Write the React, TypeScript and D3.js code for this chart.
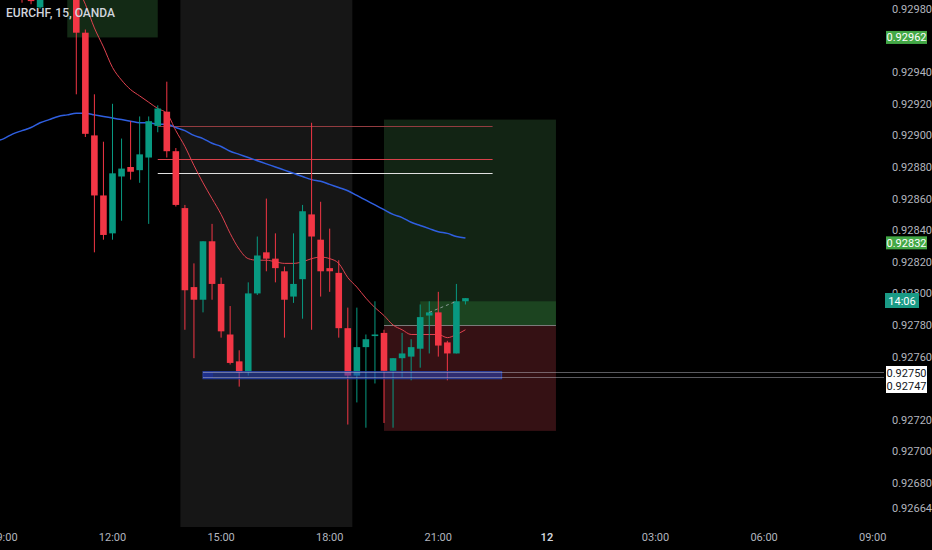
import * as d3 from "d3"

const WIDTH = 932
const HEIGHT = 550
const PLOT_RIGHT = 884
const PLOT_BOTTOM = 527

const UP = "#089981"
const DOWN = "#f23645"

// 15 min bars, index 0 = 12:00
const FIRST_BAR = -10
const opens = [
  0.9301, 0.93, 0.92981, 0.92998, 0.9301, 0.93005, 0.92998, 0.92965, 0.929, 0.92862,
  0.92838, 0.92874, 0.9288, 0.92878, 0.92886, 0.92906, 0.92915, 0.9289, 0.92854, 0.92804,
  0.92796, 0.92833, 0.92806, 0.92774, 0.92757, 0.9275, 0.928, 0.92826, 0.92822, 0.92814,
  0.92798, 0.92809, 0.9285, 0.92834, 0.92816, 0.92813, 0.92778, 0.92748, 0.92766, 0.92773,
  0.92775, 0.92751, 0.92759, 0.9276, 0.92765, 0.92786, 0.92788, 0.92769, 0.92762, 0.92795,
]
const highs = [
  0.93015, 0.93005, 0.93005, 0.93015, 0.9302, 0.93012, 0.93002, 0.92967, 0.92926, 0.92896,
  0.9292, 0.92898, 0.92909, 0.92912, 0.92912, 0.92919, 0.92934, 0.92892, 0.92856, 0.92819,
  0.92833, 0.92844, 0.9281, 0.92792, 0.92764, 0.92807, 0.92836, 0.9286, 0.92838, 0.92817,
  0.92838, 0.92856, 0.92908, 0.92858, 0.92841, 0.92821, 0.92791, 0.92791, 0.92774, 0.92795,
  0.92777, 0.92759, 0.92775, 0.92771, 0.92793, 0.92795, 0.92801, 0.9277, 0.92806, 0.92797,
]
const lows = [
  0.92984, 0.92983, 0.9298, 0.92992, 0.92995, 0.9299, 0.92926, 0.92899, 0.92826, 0.92834,
  0.92834, 0.92846, 0.92872, 0.9287, 0.92844, 0.92902, 0.92886, 0.92855, 0.92777, 0.92759,
  0.92788, 0.92796, 0.92772, 0.92755, 0.92741, 0.92748, 0.92799, 0.92814, 0.92807, 0.92772,
  0.92794, 0.92784, 0.92777, 0.92798, 0.92801, 0.92772, 0.92717, 0.92731, 0.92715, 0.92743,
  0.92718, 0.92715, 0.92747, 0.92745, 0.92753, 0.92762, 0.9276, 0.92745, 0.92762, 0.92793,
]
const closes = [
  0.92995, 0.92985, 0.92998, 0.9301, 0.93005, 0.92998, 0.92965, 0.92901, 0.92862, 0.92837,
  0.92876, 0.92879, 0.92877, 0.92888, 0.92909, 0.92917, 0.9289, 0.92856, 0.92802, 0.92796,
  0.92833, 0.92806, 0.92776, 0.92756, 0.9275, 0.928, 0.92824, 0.92822, 0.92816, 0.92796,
  0.92806, 0.92852, 0.92836, 0.92814, 0.92814, 0.92778, 0.92748, 0.92766, 0.92771, 0.92774,
  0.92751, 0.92759, 0.92762, 0.92766, 0.92785, 0.92788, 0.92767, 0.92762, 0.92795, 0.92797,
]

// moving averages
const FAST_FIRST = -4
const emaFast = [
  0.92995, 0.92983, 0.92968, 0.92956, 0.92943, 0.92935, 0.92929, 0.92925, 0.92921, 0.92917,
  0.92914, 0.92903, 0.92893, 0.92881, 0.9287, 0.9286, 0.9285, 0.92838, 0.92828, 0.92822,
  0.92821, 0.92821, 0.9282, 0.92819, 0.92819, 0.9282, 0.92822, 0.92823, 0.92822, 0.92819,
  0.9281, 0.92804, 0.92797, 0.92791, 0.92786, 0.9278, 0.92777, 0.92774, 0.92774, 0.92774,
  0.92774, 0.92772, 0.92774, 0.92777,
]
const SLOW_FIRST = -13
const emaSlow = [
  0.92896, 0.92898, 0.92901, 0.92903, 0.92905, 0.92908, 0.9291, 0.92912, 0.92913, 0.92914,
  0.92914, 0.92913, 0.92912, 0.92911, 0.9291, 0.92909, 0.92908, 0.92908, 0.92907, 0.92907,
  0.92905, 0.92903, 0.929, 0.92898, 0.92895, 0.92893, 0.9289, 0.92888, 0.92886, 0.92884,
  0.92882, 0.9288, 0.92878, 0.92876, 0.92874, 0.92872, 0.92871, 0.92869, 0.92867, 0.92865,
  0.92862, 0.92859, 0.92856, 0.92853, 0.9285, 0.92848, 0.92845, 0.92843, 0.92841, 0.92839,
  0.92838, 0.92836, 0.92835,
]

const priceTicks = [
  0.9298, 0.9294, 0.9292, 0.929, 0.9288, 0.9286, 0.9284, 0.9282, 0.928, 0.9278, 0.9276,
  0.9272, 0.927, 0.9268, 0.92664,
]
const timeTicks = [-12, 0, 12, 24, 36, 48, 60, 72, 84]
const timeLabels = ["09:00", "12:00", "15:00", "18:00", "21:00", "12", "03:00", "06:00", "09:00"]

const SESSION = [8, 26]
const hLines = [
  { from: 5, to: 42, price: 0.92906, color: "#933c40" },
  { from: 5, to: 42, price: 0.92885, color: "#d8404a" },
  { from: 5, to: 42, price: 0.92876, color: "#e0e0e0" },
]

const x = d3.scaleLinear().domain([0, 84]).range([112.5, 872.7])
const y = d3.scaleLinear().domain([0.92664, 0.9298]).range([508.3, 9])
const bw = 6.6

const fmt = (p: number) => p.toFixed(5)

export default function App() {
  const bars = opens.map((o, k) => ({
    i: FIRST_BAR + k,
    o,
    h: highs[k],
    l: lows[k],
    c: closes[k],
  }))

  const line = d3.line<number>().curve(d3.curveMonotoneX)
  const fastPath = line.x((_, k) => x(FAST_FIRST + k)).y((d) => y(d))(emaFast)
  const slowPath = line.x((_, k) => x(SLOW_FIRST + k)).y((d) => y(d))(emaSlow)

  const font = "Roboto, 'Liberation Sans', sans-serif"
  const crisp = (p: number) => Math.round(y(p)) + 0.5

  return (
    <div style={{ position: "fixed", left: 0, top: 0, width: WIDTH, height: HEIGHT, background: "#000" }}>
      <svg width={WIDTH} height={HEIGHT} style={{ display: "block" }} fontFamily={font}>
        <defs>
          <clipPath id="plot">
            <rect x={0} y={0} width={PLOT_RIGHT} height={PLOT_BOTTOM} />
          </clipPath>
        </defs>
        <rect width={WIDTH} height={HEIGHT} fill="#000" />

        <g clipPath="url(#plot)">
          {/* session background */}
          <rect
            x={x(SESSION[0] - 0.5)}
            y={0}
            width={x(SESSION[1] + 0.5) - x(SESSION[0] - 0.5)}
            height={PLOT_BOTTOM}
            fill="#161616"
          />

          {/* old position box, top left */}
          <rect x={x(-5)} y={y(0.9301)} width={x(5) - x(-5)} height={y(0.92962) - y(0.9301)} fill="#132a15" />

          {/* long position */}
          <rect x={x(30)} y={y(0.9291)} width={x(49) - x(30)} height={y(0.9278) - y(0.9291)} fill="#122414" />
          <rect x={x(34)} y={y(0.92795)} width={x(49) - x(34)} height={y(0.9278) - y(0.92795)} fill="#1c4420" />
          <rect x={x(30)} y={y(0.9278)} width={x(49) - x(30)} height={y(0.92713) - y(0.9278)} fill="#351114" />
          <line x1={x(30)} x2={x(49)} y1={crisp(0.9278)} y2={crisp(0.9278)} stroke="#7a7a7a" strokeWidth={1} />

          {/* horizontal drawings */}
          {hLines.map((l) => (
            <line
              key={l.price}
              x1={x(l.from)}
              x2={x(l.to)}
              y1={crisp(l.price)}
              y2={crisp(l.price)}
              stroke={l.color}
              strokeWidth={1}
            />
          ))}

          {/* moving averages */}
          <path d={slowPath ?? ""} fill="none" stroke="#2f5fe0" strokeWidth={1.5} />
          <path d={fastPath ?? ""} fill="none" stroke="#e0424f" strokeWidth={1} />

          {/* candles */}
          {bars.map((b) => {
            const up = b.c >= b.o
            const col = up ? UP : DOWN
            const top = y(Math.max(b.o, b.c))
            const bot = y(Math.min(b.o, b.c))
            return (
              <g key={b.i}>
                <line x1={x(b.i)} x2={x(b.i)} y1={y(b.h)} y2={y(b.l)} stroke={col} strokeWidth={1} />
                <rect x={x(b.i) - bw / 2} y={top} width={bw} height={Math.max(1, bot - top)} fill={col} />
              </g>
            )
          })}

          {/* small dashed trend */}
          <line
            x1={x(35)}
            y1={y(0.92788)}
            x2={x(38)}
            y2={y(0.92795)}
            stroke="#8a9a96"
            strokeWidth={1}
            strokeDasharray="3 3"
          />

          {/* support zone */}
          <rect
            x={x(10)}
            y={y(0.927505)}
            width={x(43) - x(10)}
            height={y(0.92746) - y(0.927505)}
            fill="rgba(41,70,190,0.55)"
            stroke="#2c45a8"
            strokeWidth={1}
          />
          <rect x={x(10)} y={y(0.927505)} width={10} height={y(0.92746) - y(0.927505)} fill="rgba(30,50,160,0.6)" />
          {[0.9275, 0.92747].map((p) => (
            <line
              key={p}
              x1={x(10)}
              x2={PLOT_RIGHT}
              y1={crisp(p)}
              y2={crisp(p)}
              stroke="rgba(200,200,210,0.45)"
              strokeWidth={1}
            />
          ))}
        </g>

        {/* title */}
        <text x={6} y={17} fill="#d1d4dc" fontSize={12} fontWeight={500}>
          EURCHF, 15, OANDA
        </text>

        {/* price axis */}
        {priceTicks.map((p) => (
          <text key={p} x={892} y={y(p) + 4} fill="#b2b5be" fontSize={11}>
            {fmt(p)}
          </text>
        ))}

        {/* price labels */}
        {[0.92962, 0.92832].map((p) => (
          <g key={p}>
            <rect x={886} y={y(p) - 6.5} width={41} height={13} fill="#43a846" />
            <text x={906.5} y={y(p) + 4} fill="#fff" fontSize={11} textAnchor="middle">
              {fmt(p)}
            </text>
          </g>
        ))}
        <rect x={885} y={293} width={34} height={15} fill="#1a9a85" />
        <text x={902} y={304.5} fill="#fff" fontSize={11} textAnchor="middle">
          14:06
        </text>
        <rect x={886} y={366} width={41} height={27} fill="#fff" />
        <text x={906.5} y={y(0.9275) + 4.5} fill="#131722" fontSize={11} textAnchor="middle">
          {fmt(0.9275)}
        </text>
        <text x={906.5} y={y(0.9275) + 18} fill="#131722" fontSize={11} textAnchor="middle">
          {fmt(0.92747)}
        </text>

        {/* time axis */}
        {timeTicks.map((t, k) => (
          <text
            key={t}
            x={x(t)}
            y={541}
            fill={timeLabels[k] === "12" ? "#d1d4dc" : "#b2b5be"}
            fontSize={11}
            fontWeight={timeLabels[k] === "12" ? 600 : 400}
            textAnchor="middle"
          >
            {timeLabels[k]}
          </text>
        ))}
      </svg>
    </div>
  )
}
